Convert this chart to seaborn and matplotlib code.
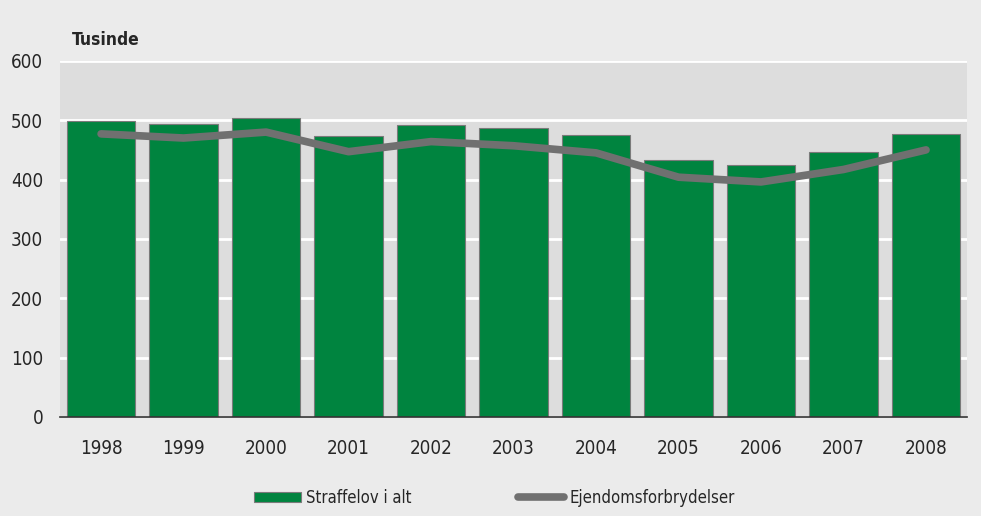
import numpy as np
import pandas as pd
import matplotlib
matplotlib.use("Agg")
import matplotlib.pyplot as plt
import seaborn as sns
from matplotlib.patches import Patch
from matplotlib.lines import Line2D

years = ["1998", "1999", "2000", "2001", "2002", "2003", "2004", "2005", "2006", "2007", "2008"]
straffelov = [499, 494, 504, 474, 492, 487, 475, 433, 425, 446, 477]
ejendom = [477, 470, 480, 447, 464, 457, 445, 404, 396, 417, 450]
yticks = [0, 100, 200, 300, 400, 500, 600]

sns.set_theme(style="white")
plt.rcParams['font.family'] = ['DejaVu Sans']
plt.rcParams['font.stretch'] = 'condensed'

fig = plt.figure(figsize=(9.81, 5.16), dpi=100, facecolor="#ebebeb")
ax = fig.add_axes([0.061, 0.192, 0.925, 0.690])
ax.set_facecolor("#dddddd")

df = pd.DataFrame({"year": years, "straffelov": straffelov, "ejendom": ejendom})
df["pos"] = np.arange(len(years))

sns.barplot(data=df, x="year", y="straffelov", color="#00843f", saturation=1,
            width=0.83, edgecolor="#7a7a7a", linewidth=0.8, ax=ax, zorder=3)
sns.lineplot(data=df, x="pos", y="ejendom", color="#707070", linewidth=5.5,
             ax=ax, zorder=4, solid_capstyle="round", solid_joinstyle="round")

ax.set_xlim(-0.5, len(years) - 0.5)
ax.set_ylim(0, 600)
ax.set_yticks(yticks)
ax.set_yticklabels([str(t) for t in yticks], fontsize=13.5)
ax.set_xticks(np.arange(len(years)))
ax.set_xticklabels(years, fontsize=13.5)
ax.yaxis.grid(True, color="white", linewidth=2, zorder=1)
ax.set_axisbelow(True)
ax.tick_params(axis="y", length=0, pad=12)
ax.tick_params(axis="x", length=0, pad=16)
ax.set_xlabel("")
ax.set_ylabel("")
for s in ["left", "right", "top"]:
    ax.spines[s].set_visible(False)
ax.spines["bottom"].set_color("#333333")
ax.spines["bottom"].set_linewidth(1.2)
ax.spines["bottom"].set_zorder(5)

fig.text(0.073, 0.922, "Tusinde", fontsize=12.5, fontweight="bold", ha="left", va="center")

handles = [Patch(facecolor="#00843f", edgecolor="#7a7a7a", linewidth=0.8),
           Line2D([0], [0], color="#707070", linewidth=5.5, solid_capstyle="round")]
fig.legend(handles, ["Straffelov i alt", "Ejendomsforbrydelser"], loc="center",
           bbox_to_anchor=(0.504, 0.035), ncol=2, frameon=False, fontsize=12,
           handlelength=2.8, handleheight=0.6, handletextpad=0.3, columnspacing=6.4)

fig.savefig("out.png", dpi=100, facecolor=fig.get_facecolor())
